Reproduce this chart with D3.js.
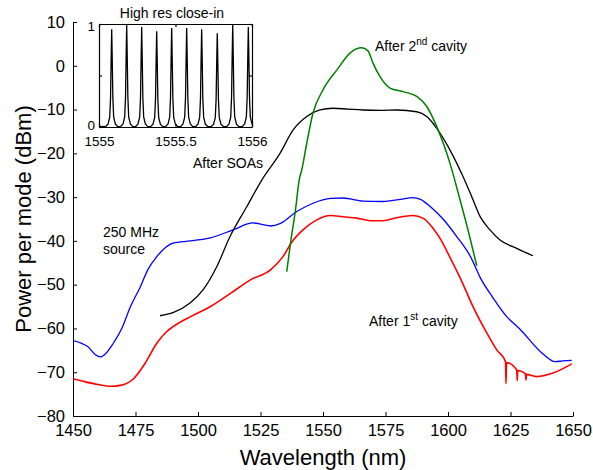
<!DOCTYPE html>
<html>
<head>
<meta charset="utf-8">
<script src="https://cdn.jsdelivr.net/npm/d3@7"></script>
<style>
  body { margin: 0; background: #fff; }
  svg { display: block; font-family: "Liberation Sans", Arial, sans-serif; }
</style>
</head>
<body>
<script>
// values: wavelength (nm) and power per mode (dBm)
var sourceWl  = [1450, 1453, 1456, 1459, 1461, 1463, 1466, 1469.5, 1473, 1477, 1480, 1483.5, 1487, 1490, 1497, 1505, 1514, 1522, 1526, 1529, 1533, 1539.5, 1546, 1553, 1558, 1566, 1574, 1581, 1586, 1589, 1593, 1598, 1603.5, 1609, 1613, 1618, 1623.5, 1629, 1637, 1643, 1646, 1649.5];
var sourceDbm = [-62.8, -63.3, -64.2, -66.0, -66.5, -65.8, -63.5, -60, -55, -50.4, -46.5, -43.6, -41.5, -40.5, -40, -39.3, -37.5, -35.9, -36.3, -36.6, -36, -33.3, -31.4, -30.3, -30.2, -30.9, -31, -30.5, -30.1, -30.5, -32.2, -35.0, -39, -43.6, -48.5, -53, -57.3, -60.3, -65.3, -67.6, -67.4, -67.3];

var cav1Wl  = [1450, 1455, 1460, 1465, 1469, 1474, 1478.8, 1483.5, 1487.5, 1490, 1497, 1505, 1513, 1521, 1529, 1534, 1537.5, 1542, 1547.5, 1553, 1558, 1563.5, 1569, 1574, 1579.5, 1586, 1590, 1594, 1597, 1601, 1605, 1610, 1615.5, 1619.5, 1623, 1623.2, 1623.4, 1627.5, 1627.7, 1627.9, 1631, 1631.2, 1631.4, 1635.5, 1642, 1649.5];
var cav1Dbm = [-71.5, -72.2, -72.8, -73.2, -73.0, -71.6, -68, -63.4, -60.7, -59.6, -57.3, -55, -52, -48.9, -46.6, -43.6, -40.3, -37.5, -35.2, -34.2, -34.5, -34.8, -35.4, -35.4, -34.7, -34.2, -34.8, -37.1, -39.6, -44, -48.6, -55, -61, -64.9, -67.6, -72.6, -67.8, -69.5, -71.9, -69.6, -70.4, -71.8, -70.5, -71, -70.2, -68.1];

var soaWl  = [1484.8, 1490, 1496.8, 1502, 1507.5, 1512.8, 1519.5, 1525.5, 1532.8, 1538, 1543.5, 1548.8, 1554, 1560, 1566, 1573, 1579.5, 1587.5, 1591.5, 1596, 1601.5, 1606, 1609.5, 1612.8, 1616.8, 1620.8, 1627.5, 1634];
var soaDbm = [-57.1, -56.4, -54.2, -51.2, -45.9, -39, -32.2, -26.1, -20, -14.7, -11.6, -10.1, -9.7, -9.9, -10.1, -10.2, -10.1, -10.5, -11.6, -14.7, -20, -25.3, -29.9, -34.4, -37.5, -39.8, -41.7, -43.4];

var cav2Wl  = [1535.5, 1537, 1539, 1540.5, 1541.5, 1543.5, 1546, 1550, 1555.5, 1560.8, 1565.5, 1568, 1570, 1572.8, 1576.8, 1582, 1587.5, 1591.5, 1595.5, 1600.8, 1604.8, 1608, 1611.5];
var cav2Dbm = [-47, -40.5, -32.9, -26, -23.8, -17.7, -10.8, -5.5, -1, 2.9, 4.1, 3.4, 0.6, -2.5, -5.1, -5.9, -7, -9.3, -13.9, -22.3, -30.6, -37.5, -45.7];

var xTicks = [1450, 1475, 1500, 1525, 1550, 1575, 1600, 1625, 1650];
var yTicks = [10, 0, -10, -20, -30, -40, -50, -60, -70, -80];

// inset: high resolution close-in (normalised)
var peakWl     = [1555.083, 1555.181, 1555.279, 1555.377, 1555.475, 1555.573, 1555.671, 1555.773, 1555.874, 1555.976];
var peakHeight = [0.95, 0.99, 0.97, 0.93, 0.96, 0.96, 0.95, 0.91, 0.99, 0.97];
var peakShapeDx = [-0.04, -0.024, -0.013, -0.0075, -0.004, 0, 0.004, 0.0075, 0.013, 0.024, 0.04];
var peakShapeY  = [0.004, 0.03, 0.1, 0.3, 0.65, 1, 0.65, 0.3, 0.1, 0.03, 0.004];
var insetXTicks = [1555, 1555.5, 1556];
var insetXLabels = ['1555', '1555.5', '1556'];
var insetYTicks = [0, 0.5, 1];

var width = 593, height = 470;
var margin = {top: 22, right: 20, bottom: 54, left: 73};

var svg = d3.select('body').append('svg')
    .attr('width', width)
    .attr('height', height);

var x = d3.scaleLinear().domain([1450, 1650]).range([margin.left, width - margin.right]);
var y = d3.scaleLinear().domain([-80, 10]).range([height - margin.bottom, margin.top]);

function zip(a, b) {
  return a.map(function(v, i) { return [v, b[i]]; });
}

var line = d3.line()
    .x(function(d) { return x(d[0]); })
    .y(function(d) { return y(d[1]); })
    .curve(d3.curveMonotoneX);

// axes, matlab style: ticks pointing in, no box
var xAxis = svg.append('g')
    .attr('transform', 'translate(0,' + y(-80) + ')')
    .call(d3.axisBottom(x).tickValues(xTicks).tickFormat(d3.format('d'))
      .tickSizeInner(-4).tickSizeOuter(0).tickPadding(8));
var yAxis = svg.append('g')
    .attr('transform', 'translate(' + x(1450) + ',0)')
    .call(d3.axisLeft(y).tickValues(yTicks).tickSizeInner(-4).tickSizeOuter(0).tickPadding(8));

[xAxis, yAxis].forEach(function(ax) {
  ax.selectAll('path, line').attr('stroke', '#000').attr('stroke-width', 1);
  ax.selectAll('text').attr('font-size', 16.5).attr('fill', '#000')
    .attr('font-family', '"Liberation Sans", Arial, sans-serif');
});

svg.append('text')
    .attr('x', (x(1450) + x(1650)) / 2)
    .attr('y', 465)
    .attr('text-anchor', 'middle')
    .attr('font-size', 22)
    .text('Wavelength (nm)');

svg.append('text')
    .attr('transform', 'translate(31,' + ((y(10) + y(-80)) / 2) + ') rotate(-90)')
    .attr('text-anchor', 'middle')
    .attr('font-size', 22)
    .text('Power per mode (dBm)');

// spectra
var series = [
  {wl: sourceWl, dbm: sourceDbm, color: '#0000ff', w: 1.3},
  {wl: cav1Wl, dbm: cav1Dbm, color: '#ff0000', w: 1.6},
  {wl: soaWl, dbm: soaDbm, color: '#000000', w: 1.3},
  {wl: cav2Wl, dbm: cav2Dbm, color: '#008000', w: 1.5}
];
series.forEach(function(s) {
  svg.append('path')
      .attr('d', line(zip(s.wl, s.dbm)))
      .attr('fill', 'none')
      .attr('stroke', s.color)
      .attr('stroke-width', s.w);
});

// annotations
var notes = svg.append('g').attr('font-size', 14).attr('fill', '#000');
var t2 = notes.append('text').attr('x', 375).attr('y', 51);
t2.append('tspan').text('After 2');
t2.append('tspan').attr('dy', -6).attr('font-size', 10).text('nd');
t2.append('tspan').attr('dy', 6).text(' cavity');

notes.append('text').attr('x', 193).attr('y', 168).text('After SOAs');
notes.append('text').attr('x', 103).attr('y', 237).text('250 MHz');
notes.append('text').attr('x', 103).attr('y', 254).text('source');

var t1 = notes.append('text').attr('x', 369).attr('y', 326);
t1.append('tspan').text('After 1');
t1.append('tspan').attr('dy', -6).attr('font-size', 10).text('st');
t1.append('tspan').attr('dy', 6).text(' cavity');

// inset
var ix = d3.scaleLinear().domain([1555, 1556]).range([99, 252]);
var iy = d3.scaleLinear().domain([0, 1]).range([127, 24]);

var inset = svg.append('g');
inset.append('rect')
    .attr('x', 99).attr('y', 24)
    .attr('width', 153).attr('height', 103)
    .attr('fill', '#fff');

var insetPts = [[1555, 0.005]];
peakWl.forEach(function(c, i) {
  peakShapeDx.forEach(function(dx, k) {
    insetPts.push([c + dx, peakShapeY[k] * peakHeight[i]]);
  });
});
insetPts.push([1556, 0.01]);

inset.append('clipPath').attr('id', 'insetClip')
  .append('rect').attr('x', 99).attr('y', 20).attr('width', 153).attr('height', 108);

inset.append('path')
    .attr('clip-path', 'url(#insetClip)')
    .attr('d', d3.line()
      .x(function(d) { return ix(d[0]); })
      .y(function(d) { return iy(d[1]); })(insetPts))
    .attr('fill', 'none')
    .attr('stroke', '#000')
    .attr('stroke-width', 1.3);

var ib = inset.append('g').attr('transform', 'translate(0,127)')
    .call(d3.axisBottom(ix).tickValues(insetXTicks).tickFormat(function(d, i) { return insetXLabels[i]; })
      .tickSizeInner(-3).tickSizeOuter(0).tickPadding(9));
var it = inset.append('g').attr('transform', 'translate(0,24)')
    .call(d3.axisTop(ix).tickValues(insetXTicks).tickFormat('').tickSizeInner(-3).tickSizeOuter(0));
var il = inset.append('g').attr('transform', 'translate(99,0)')
    .call(d3.axisLeft(iy).tickValues(insetYTicks).tickFormat(function(d) { return d === 0.5 ? '' : d; })
      .tickSizeInner(-3).tickSizeOuter(0).tickPadding(4));
var ir = inset.append('g').attr('transform', 'translate(252,0)')
    .call(d3.axisRight(iy).tickValues(insetYTicks).tickFormat('').tickSizeInner(-3).tickSizeOuter(0));

[ib, it, il, ir].forEach(function(ax) {
  ax.selectAll('path, line').attr('stroke', '#000').attr('stroke-width', 1.2);
  ax.selectAll('text').attr('font-size', 13.5).attr('fill', '#000')
    .attr('font-family', '"Liberation Sans", Arial, sans-serif');
});
il.selectAll('text').attr('dy', function(d) { return d === 0 ? '0.15em' : '0.5em'; });

inset.append('text')
    .attr('x', 172).attr('y', 18)
    .attr('text-anchor', 'middle')
    .attr('font-size', 14)
    .text('High res close-in');
</script>
</body>
</html>
